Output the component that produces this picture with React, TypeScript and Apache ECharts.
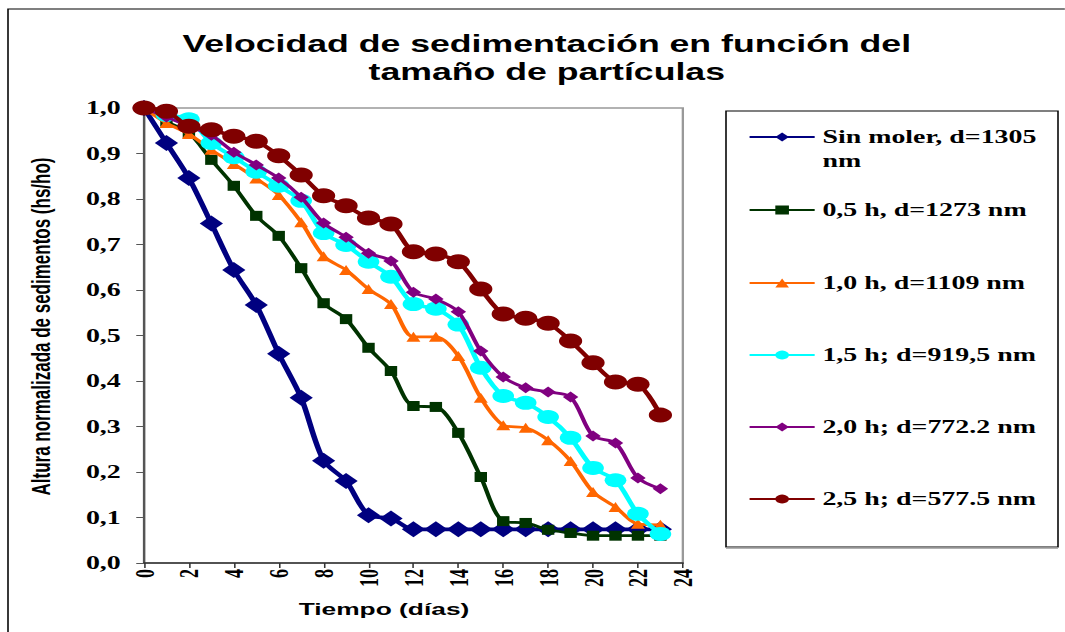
import React, { useEffect, useRef } from "react";
import * as echarts from "echarts";

const days = [0, 1, 2, 3, 4, 5, 6, 7, 8, 9, 10, 11, 12, 13, 14, 15, 16, 17, 18, 19, 20, 21, 22, 23];

const seriesNames = [
  "Sin moler, d=1305 nm",
  "0,5 h, d=1273 nm",
  "1,0 h, d=1109 nm",
  "1,5 h; d=919,5 nm",
  "2,0 h; d=772.2 nm",
  "2,5 h; d=577.5 nm",
];

const sinMoler = [1.0, 0.923, 0.846, 0.746, 0.644, 0.567, 0.46, 0.363, 0.225, 0.18, 0.105, 0.098, 0.074, 0.074, 0.074, 0.074, 0.074, 0.074, 0.074, 0.074, 0.074, 0.074, 0.074, 0.074];
const h05 = [1.0, 0.97, 0.945, 0.886, 0.829, 0.763, 0.719, 0.648, 0.571, 0.536, 0.473, 0.422, 0.345, 0.343, 0.286, 0.189, 0.092, 0.088, 0.073, 0.066, 0.06, 0.06, 0.06, 0.06];
const h10 = [1.0, 0.967, 0.943, 0.908, 0.877, 0.845, 0.809, 0.749, 0.674, 0.644, 0.602, 0.569, 0.497, 0.497, 0.455, 0.363, 0.303, 0.297, 0.27, 0.224, 0.156, 0.123, 0.086, 0.084];
const h15 = [1.0, 0.985, 0.975, 0.923, 0.892, 0.86, 0.829, 0.796, 0.725, 0.699, 0.662, 0.629, 0.569, 0.559, 0.524, 0.429, 0.367, 0.352, 0.321, 0.275, 0.209, 0.182, 0.108, 0.064];
const h20 = [1.0, 0.98, 0.96, 0.94, 0.903, 0.875, 0.846, 0.804, 0.747, 0.716, 0.681, 0.664, 0.595, 0.58, 0.552, 0.466, 0.409, 0.385, 0.376, 0.365, 0.279, 0.264, 0.187, 0.163];
const h25 = [1.0, 0.993, 0.96, 0.952, 0.938, 0.927, 0.895, 0.853, 0.807, 0.785, 0.758, 0.745, 0.684, 0.679, 0.662, 0.602, 0.547, 0.538, 0.527, 0.488, 0.44, 0.398, 0.393, 0.325];

const allValues = [sinMoler, h05, h10, h15, h20, h25];

// horizontal stretch of the whole picture
const S = 1.55;
const W = 1065 / S;

const styles = [
  { color: "#000080", symbol: "diamond", size: [15, 16], width: 3.6 },
  { color: "#003300", symbol: "rect", size: [8, 10], width: 2.8 },
  { color: "#FF6600", symbol: "triangle", size: [9, 10], width: 2.8 },
  { color: "#00FFFF", symbol: "circle", size: [14, 14], width: 3.4 },
  { color: "#800080", symbol: "diamond", size: [10, 11], width: 2.8 },
  { color: "#800000", symbol: "circle", size: [15, 15], width: 3.4 },
];

const legendCenters = [137, 210, 283, 355, 427, 499];

export default function App() {
  const ref = useRef<HTMLDivElement>(null);

  useEffect(() => {
    if (!ref.current) return;
    const chart = echarts.init(ref.current, null, { renderer: "svg" });
    const serif = "'Liberation Serif', 'Times New Roman', serif";
    const sans = "'Liberation Sans', Arial, sans-serif";

    const series = allValues.map((vals, i) => ({
      name: seriesNames[i],
      type: "line",
      smooth: 0.3,
      symbol: styles[i].symbol,
      symbolSize: styles[i].size,
      lineStyle: { color: styles[i].color, width: styles[i].width },
      itemStyle: { color: styles[i].color },
      data: vals.map((v, j) => [days[j], v]),
      z: 2 + i,
    }));

    const legends = seriesNames.map((name, i) => ({
      show: true,
      data: [name],
      orient: "vertical",
      left: 482.6,
      top: i === 0 ? legendCenters[i] - 36 : legendCenters[i] - 12,
      padding: 0,
      itemWidth: 42,
      itemHeight: 11,
      formatter: i === 0 ? () => "\nSin moler, d=1305\nnm" : undefined,
      textStyle: {
        fontFamily: serif,
        fontWeight: "bold",
        fontSize: 18,
        lineHeight: 24,
        color: "#000",
      },
    }));

    chart.setOption({
      animation: false,
      backgroundColor: "#fff",
      title: {
        text: "Velocidad de sedimentación en función del\ntamaño de partículas",
        left: 539 / S,
        textAlign: "center",
        top: 25,
        textStyle: {
          fontFamily: sans,
          fontWeight: "bold",
          fontSize: 23,
          lineHeight: 28,
          color: "#000",
        },
      },
      legend: legends,
      grid: {
        left: 144 / S,
        right: W - 683 / S,
        top: 108,
        bottom: 69,
        show: true,
        borderColor: "#999",
        borderWidth: 1.5,
        backgroundColor: "transparent",
      },
      xAxis: {
        type: "value",
        min: 0,
        max: 24,
        interval: 2,
        axisLine: { show: true, onZero: false, lineStyle: { color: "#333", width: 1.5 } },
        axisTick: { show: true, inside: false, length: 5, lineStyle: { color: "#333", width: 1 } },
        splitLine: { show: false },
        axisLabel: {
          rotate: 90,
          margin: 6,
          fontFamily: serif,
          fontWeight: "bold",
          fontSize: 18,
          color: "#000",
        },
        name: "Tiempo (días)",
        nameLocation: "middle",
        nameGap: 38,
        nameTextStyle: {
          fontFamily: sans,
          fontWeight: "bold",
          fontSize: 17,
          color: "#000",
          padding: [0, 38, 0, 0],
        },
      },
      yAxis: {
        type: "value",
        min: 0,
        max: 1,
        interval: 0.1,
        axisLine: { show: true, onZero: false, lineStyle: { color: "#555", width: 1.5 } },
        axisTick: { show: true, inside: false, length: 5, lineStyle: { color: "#555", width: 1 } },
        splitLine: { show: false },
        axisLabel: {
          margin: 15,
          fontFamily: serif,
          fontWeight: "bold",
          fontSize: 18,
          color: "#000",
          formatter: (v: number) => v.toFixed(1).replace(".", ","),
        },
        name: "Altura normalizada de sedimentos (hs/ho)",
        nameLocation: "middle",
        nameGap: 58,
        nameTextStyle: {
          fontFamily: sans,
          fontWeight: "bold",
          fontSize: 17,
          color: "#000",
          padding: [0, 0, 0, 18],
        },
      },
      graphic: [
        {
          type: "rect",
          silent: true,
          shape: { x: 8 / S, y: 9, width: 2000, height: 2000 },
          style: { fill: "none", stroke: "#000", lineWidth: 1 },
        },
        {
          type: "rect",
          silent: true,
          shape: { x: 726 / S, y: 111, width: (1058 - 726) / S, height: 436 },
          style: { fill: "none", stroke: "#000", lineWidth: 1 },
        },
        {
          type: "line",
          silent: true,
          shape: { x1: 726 / S, y1: 548, x2: 1058 / S, y2: 548 },
          style: { stroke: "#999", lineWidth: 1.5 },
        },
      ],
      series,
    });

    return () => chart.dispose();
  }, []);

  return (
    <div
      style={{
        position: "absolute",
        left: 0,
        top: 0,
        width: 1065,
        height: 632,
        overflow: "hidden",
        background: "#fff",
      }}
    >
      <div
        ref={ref}
        style={{
          width: W,
          height: 632,
          transform: `scaleX(${S})`,
          transformOrigin: "0 0",
        }}
      />
    </div>
  );
}
